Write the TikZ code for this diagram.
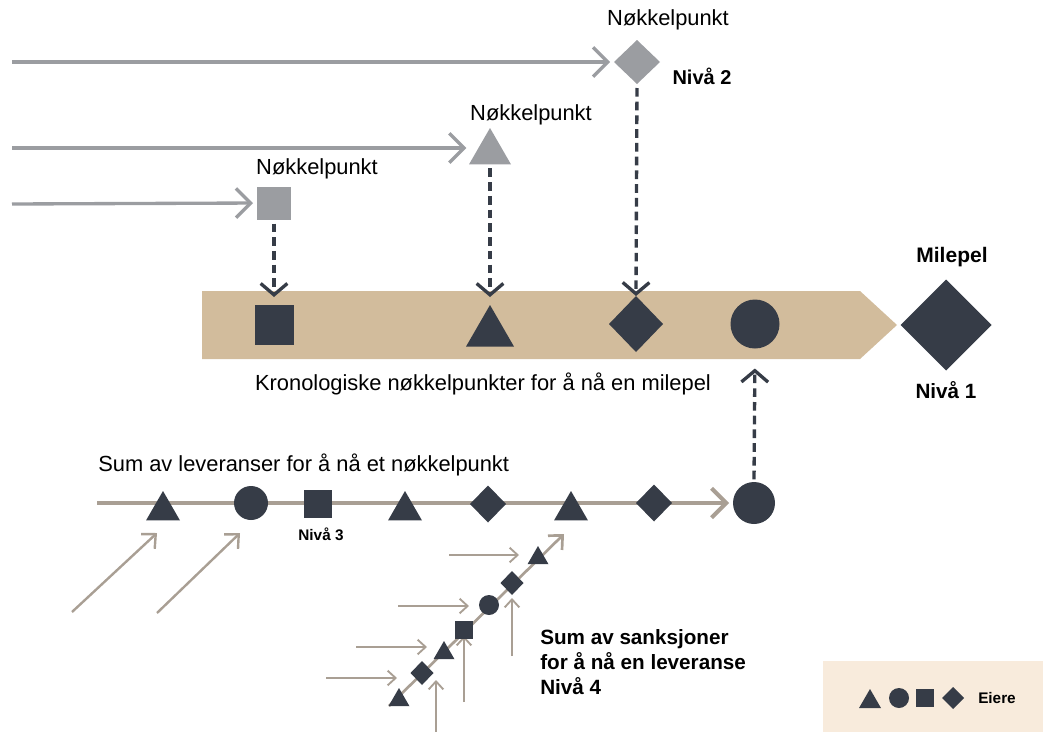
\documentclass[tikz,border=0pt]{standalone}
\usepackage{fontspec}
\setmainfont{Liberation Sans}
\usetikzlibrary{shapes.geometric,arrows.meta}
\definecolor{keygray}{HTML}{9B9DA1}
\definecolor{inkdark}{HTML}{363C47}
\definecolor{bandtan}{HTML}{D2BC9C}
\definecolor{taupe}{HTML}{A99F94}
\definecolor{legendbg}{HTML}{F8EBDC}
\begin{document}
\begin{tikzpicture}[x=0.75pt,y=-0.75pt,
  % filled symbols, sizes given in px
  mark/.style={fill=#1,draw=none,inner sep=0pt,outer sep=0pt},
  sq/.style 2 args={mark=inkdark,rectangle,minimum width=0.75pt*#1,minimum height=0.75pt*#2},
  dot/.style={mark=inkdark,circle,minimum size=0.75pt*#1},
  dia/.style 2 args={mark=inkdark,diamond,minimum width=0.75pt*#1,minimum height=0.75pt*#2},
  tri/.style={mark=inkdark,regular polygon,regular polygon sides=3,minimum size=0.866pt*#1,anchor=corner 1},
  % connectors
  grayarrow/.style={draw=keygray,line width=2.5pt,-{Straight Barb[length=11pt,width=22pt]}},
  dasharrow/.style={draw=inkdark,line width=2.5pt,dash pattern=on 6.5pt off 3.8pt,-{Straight Barb[length=8.5pt,width=20pt]}},
  mainarrow/.style={draw=taupe,line width=3pt,-{Straight Barb[length=11pt,width=22pt]}},
  midarrow/.style={draw=taupe,line width=1.8pt,-{Straight Barb[length=8pt,width=15pt]}},
  thinarrow/.style={draw=taupe,line width=1.4pt,-{Straight Barb[length=6pt,width=11pt]}},
  txt/.style={inner sep=0pt,font=\fontsize{16.4}{19}\selectfont},
  btxt/.style={inner sep=0pt,font=\fontsize{15.5}{18.75}\selectfont\bfseries},
]
\useasboundingbox (0,0) rectangle (1043,732);

% ---- key points on level 2 ----
\coordinate (s1) at (12,62);
\coordinate (s2) at (12,148);
\coordinate (s3) at (12,204);
\node[mark=keygray,diamond,minimum width=34.5pt,minimum height=33pt] (gdia) at (637,62) {};
\node[mark=keygray,regular polygon,regular polygon sides=3,minimum size=0.866pt*42,anchor=corner 1] (gtri) at (490,128) {};
\node[mark=keygray,rectangle,minimum width=25.5pt,minimum height=24.75pt] (gsq) at (274,203) {};
\draw[grayarrow,shorten >=3pt] (s1) -- (gdia.west);
\draw[grayarrow,shorten >=2pt] (s2) -- (s2 -| gtri.corner 2);
\draw[grayarrow,shorten >=3pt] (s3) -- (gsq.west);

\node[txt] (kp1) at (668,20) {Nøkkelpunkt};
\node[txt] (kp2) at (531,115) {Nøkkelpunkt};
\node[txt] (kp3) at (317,169) {Nøkkelpunkt};
\node[btxt,font=\fontsize{15}{18}\selectfont\bfseries] (niv2) at (702,76) {Nivå 2};

% ---- chronological band ----
\fill[bandtan] (202,291) -- (860,291) -- (897,325) -- (860,359) -- (202,359) -- cycle;
\node[sq={39}{40}] (bsq) at (274,325) {};
\node[tri=48] (btri) at (490,305) {};
\node[dia={54}{56}] (bdia) at (636,324) {};
\node[dot=49] (bdot) at (755,324) {};
\node[dia={91}{91}] (mile) at (946,325) {};
\node[btxt,font=\fontsize{15.75}{19}\selectfont\bfseries] (milet) at (952,257) {Milepel};
\node[btxt,font=\fontsize{15.5}{19}\selectfont\bfseries] (niv1) at (946,390) {Nivå 1};
\node[txt] (kron) at (483,384) {Kronologiske nøkkelpunkter for å nå en milepel};

\draw[dasharrow,shorten <=3pt,shorten >=6pt] (gsq.south) -- (bsq.north);
\draw[dasharrow,shorten <=3pt,shorten >=6pt] (gtri.corner 2 -| btri.corner 1) -- (btri.corner 1);
\draw[dasharrow,shorten <=3pt] (gdia.south) -- (bdia.north);

% ---- deliveries on level 3 ----
\coordinate (l0) at (97,503);
\node[dot=42] (ldot) at (754,503) {};
\draw[mainarrow,shorten >=3pt] (l0) -- (ldot.west);
\draw[dasharrow,shorten <=2pt,shorten >=15pt] (ldot.north) -- (bdot.south);

\node[tri=34] (lt1) at (163,491) {};
\node[dot=34] (ld1) at (251,503) {};
\node[sq={28}{28}] (ls1) at (318,504) {};
\node[tri=34] (lt2) at (405,491) {};
\node[dia={36}{37}] (la1) at (488,504) {};
\node[tri=34] (lt3) at (571,491) {};
\node[dia={36}{37}] (la2) at (654,503) {};
\node[txt] (sumlev) [anchor=west] at (98,465) {Sum av leveranser for å nå et nøkkelpunkt};
\node[btxt,font=\fontsize{11.5}{14}\selectfont\bfseries] (niv3) at (321,534) {Nivå 3};

\coordinate (da1) at (72,612);
\coordinate (db1) at (157,533);
\coordinate (da2) at (157,613);
\coordinate (db2) at (240,533);
\draw[midarrow] (da1) -- (db1);
\draw[midarrow] (da2) -- (db2);

% ---- sanctions on level 4 ----
\coordinate (g0) at (389,706);
\coordinate (g1) at (564,534);
\draw[midarrow,line width=2pt] (g0) -- (g1);

\coordinate (h1a) at (449,555); \coordinate (h1b) at (519,555);
\coordinate (h2a) at (398,606); \coordinate (h2b) at (469,606);
\coordinate (h3a) at (356,647); \coordinate (h3b) at (427,647);
\coordinate (h4a) at (326,678); \coordinate (h4b) at (397,678);
\draw[thinarrow] (h1a) -- (h1b);
\draw[thinarrow] (h2a) -- (h2b);
\draw[thinarrow] (h3a) -- (h3b);
\draw[thinarrow] (h4a) -- (h4b);

\coordinate (v1a) at (436,732); \coordinate (v1b) at (436,680);
\coordinate (v2a) at (464,702); \coordinate (v2b) at (464,636);
\coordinate (v3a) at (512,656); \coordinate (v3b) at (512,598);
\draw[thinarrow] (v1a) -- (v1b);
\draw[thinarrow] (v2a) -- (v2b);
\draw[thinarrow] (v3a) -- (v3b);

\node[tri=21] (st1) at (399,688) {};
\node[dia={23}{24}] (sa1) at (422,673) {};
\node[tri=21] (st2) at (444,641) {};
\node[sq={18}{18}] (ss1) at (464,630) {};
\node[dot=20] (sd1) at (489,605) {};
\node[dia={23}{24}] (sa2) at (512,583) {};
\node[tri=21] (st3) at (538,546) {};

\node[btxt,align=left,anchor=north west] (sumsank) at (540,629) {Sum av sanksjoner\\for å nå en leveranse\\Nivå 4};

% ---- legend ----
\fill[legendbg] (823,661) rectangle (1043,732);
\node[tri=22] (gt) at (870,689) {};
\node[dot=20] (gd) at (899,698) {};
\node[sq={18}{18}] (gs) at (925,698) {};
\node[dia={22}{22}] (ga) at (953,698) {};
\node[btxt,font=\fontsize{11.5}{14}\selectfont\bfseries] (eiere) at (997,698) {Eiere};
\end{tikzpicture}
\end{document}
